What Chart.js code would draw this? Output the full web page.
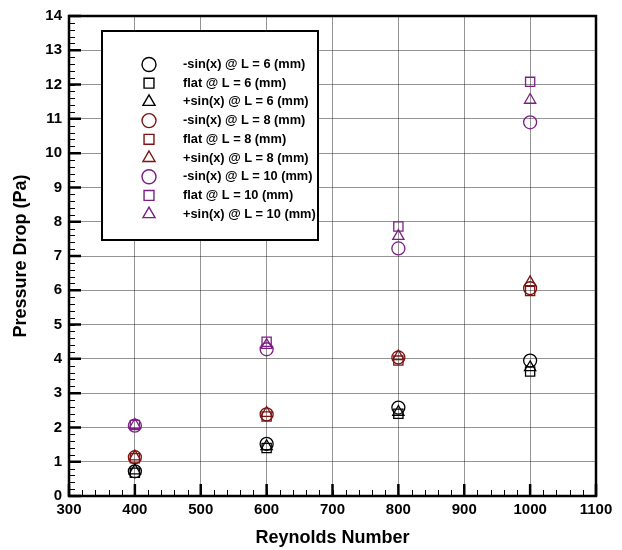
<!DOCTYPE html>
<html>
<head>
<meta charset="utf-8">
<script src="https://cdn.jsdelivr.net/npm/chart.js@4.4.1/dist/chart.umd.min.js"></script>
<style>
body { margin: 0; background: #fff; }
#chartContainer { width: 622px; height: 550px; }
</style>
</head>
<body>
<div id="chartContainer"><canvas id="Chart1" width="622" height="550"></canvas></div>
<script>
// DATA

// Reynolds numbers (x)
const reynolds = [400, 600, 800, 1000];

// pressure drop (Pa) for each profile and length
const negSin6 = [0.72, 1.52, 2.58, 3.95];
const flat6 = [0.68, 1.40, 2.40, 3.63];
const posSin6 = [0.74, 1.45, 2.45, 3.75];
const negSin8 = [1.13, 2.38, 4.04, 6.06];
const flat8 = [1.10, 2.32, 3.95, 5.98];
const posSin8 = [1.15, 2.42, 4.07, 6.23];
const negSin10 = [2.05, 4.28, 7.22, 10.90];
const flat10 = [2.07, 4.50, 7.86, 12.08];
const posSin10 = [2.07, 4.40, 7.58, 11.55];

const seriesLabels = [
    '-sin(x) @ L = 6 (mm)', 'flat @ L = 6 (mm)', '+sin(x) @ L = 6 (mm)',
    '-sin(x) @ L = 8 (mm)', 'flat @ L = 8 (mm)', '+sin(x) @ L = 8 (mm)',
    '-sin(x) @ L = 10 (mm)', 'flat @ L = 10 (mm)', '+sin(x) @ L = 10 (mm)'
];
const seriesValues = [negSin6, flat6, posSin6, negSin8, flat8, posSin8, negSin10, flat10, posSin10];
const seriesColors = ['#000000', '#000000', '#000000', '#7d1212', '#7d1212', '#7d1212', '#7c1f84', '#7c1f84', '#7c1f84'];
const seriesShapes = ['circle', 'rect', 'triangle', 'circle', 'rect', 'triangle', 'circle', 'rect', 'triangle'];

// ----------------------------------------------------------------------------------------------------------------------------

const fontFamily = '"Liberation Sans", Arial, sans-serif';
Chart.defaults.font.family = fontFamily;
Chart.defaults.color = '#000';

// build datasets from the arrays above
const datasets = seriesValues.map((vals, i) => ({
    label: seriesLabels[i],
    data: reynolds.map((x, j) => ({ x: x, y: vals[j] })),
    pointStyle: seriesShapes[i],
    borderColor: seriesColors[i],
    backgroundColor: 'rgba(0,0,0,0)',
    pointRadius: 6.5,
    pointBorderWidth: 1.3,
    showLine: false
}));

// draw a hollow marker (used by the legend box)
function drawMarker(ctx, shape, x, y, r, color) {
    ctx.save();
    ctx.strokeStyle = color;
    ctx.lineWidth = 1.4;
    ctx.beginPath();
    if (shape === 'circle') {
        ctx.arc(x, y, r, 0, Math.PI * 2);
    } else if (shape === 'rect') {
        const s = r / Math.SQRT2;
        ctx.rect(x - s, y - s, 2 * s, 2 * s);
    } else {
        for (let k = 0; k < 3; k++) {
            const a = k * 2 * Math.PI / 3;
            const px = x + Math.sin(a) * r;
            const py = y - Math.cos(a) * r;
            if (k === 0) ctx.moveTo(px, py); else ctx.lineTo(px, py);
        }
        ctx.closePath();
    }
    ctx.stroke();
    ctx.restore();
}

// frame + inward major/minor tick marks
const frameTicks = {
    id: 'frameTicks',
    afterDatasetsDraw(chart) {
        const ctx = chart.ctx;
        const a = chart.chartArea;
        const xs = chart.scales.x;
        const ys = chart.scales.y;
        ctx.save();
        ctx.strokeStyle = '#000';
        // minor ticks
        ctx.lineWidth = 1;
        ctx.beginPath();
        for (let i = 1; i < 40; i++) {
            const px = Math.round(xs.getPixelForValue(xs.min + i * 20)) + 0.5;
            ctx.moveTo(px, a.bottom); ctx.lineTo(px, a.bottom - 6);
        }
        for (let i = 1; i < 70; i++) {
            const py = Math.round(ys.getPixelForValue(ys.min + i * 0.2)) + 0.5;
            ctx.moveTo(a.left, py); ctx.lineTo(a.left + 6, py);
        }
        ctx.stroke();
        // major ticks
        ctx.lineWidth = 2.5;
        ctx.beginPath();
        xs.ticks.forEach(t => {
            const px = xs.getPixelForValue(t.value);
            ctx.moveTo(px, a.bottom); ctx.lineTo(px, a.bottom - 12);
        });
        ys.ticks.forEach(t => {
            const py = ys.getPixelForValue(t.value);
            ctx.moveTo(a.left, py); ctx.lineTo(a.left + 12, py);
        });
        ctx.stroke();
        // frame
        ctx.lineWidth = 2.5;
        ctx.strokeRect(a.left, a.top, a.right - a.left, a.bottom - a.top);
        ctx.restore();
    }
};

// boxed legend inside the plot area
const legendBox = {
    id: 'legendBox',
    afterDraw(chart) {
        const ctx = chart.ctx;
        const a = chart.chartArea;
        const x0 = a.left + 33, y0 = a.top + 15, w = 216, h = 209;
        ctx.save();
        ctx.fillStyle = '#fff';
        ctx.fillRect(x0, y0, w, h);
        ctx.lineWidth = 2;
        ctx.strokeStyle = '#000';
        ctx.strokeRect(x0, y0, w, h);
        ctx.font = 'bold 12.8px ' + fontFamily;
        ctx.textBaseline = 'middle';
        ctx.textAlign = 'left';
        chart.data.datasets.forEach((ds, i) => {
            const cy = y0 + 33.5 + i * 18.7;
            drawMarker(ctx, ds.pointStyle, x0 + 47, cy, 7, ds.borderColor);
            ctx.fillStyle = '#000';
            ctx.fillText(ds.label, x0 + 81, cy);
        });
        ctx.restore();
    }
};

let Chart1;
const ctx = document.getElementById('Chart1').getContext('2d');
Chart1 = new Chart(ctx, {
    type: 'scatter',
    data: { datasets: datasets },
    options: {
        responsive: false,
        animation: false,
        devicePixelRatio: 1,
        layout: { padding: { left: 0, right: 26, top: 14, bottom: 0 } },
        plugins: {
            legend: { display: false },
            tooltip: { enabled: false }
        },
        scales: {
            x: {
                type: 'linear',
                min: 300,
                max: 1100,
                ticks: {
                    stepSize: 100, padding: 5, font: { size: 15, weight: 'bold' }, color: '#000',
                    callback: (value) => String(value) // no thousands separator
                },
                grid: { color: 'rgba(0,0,0,0.42)', lineWidth: 1, drawTicks: false },
                border: { display: false },
                title: { display: true, text: 'Reynolds Number', font: { size: 18, weight: 'bold' }, padding: { top: 0, bottom: 1 } },
                afterFit: (scale) => { scale.height = 54; }
            },
            y: {
                type: 'linear',
                min: 0,
                max: 14,
                ticks: {
                    stepSize: 1, padding: 7, font: { size: 15, weight: 'bold' }, color: '#000',
                    callback: (value) => String(value)
                },
                grid: { color: 'rgba(0,0,0,0.42)', lineWidth: 1, drawTicks: false },
                border: { display: false },
                title: { display: true, text: 'Pressure Drop (Pa)', font: { size: 18, weight: 'bold' }, padding: { top: 10, bottom: 0 } },
                afterFit: (scale) => { scale.width = 69; }
            }
        }
    },
    plugins: [frameTicks, legendBox]
});
</script>
</body>
</html>
